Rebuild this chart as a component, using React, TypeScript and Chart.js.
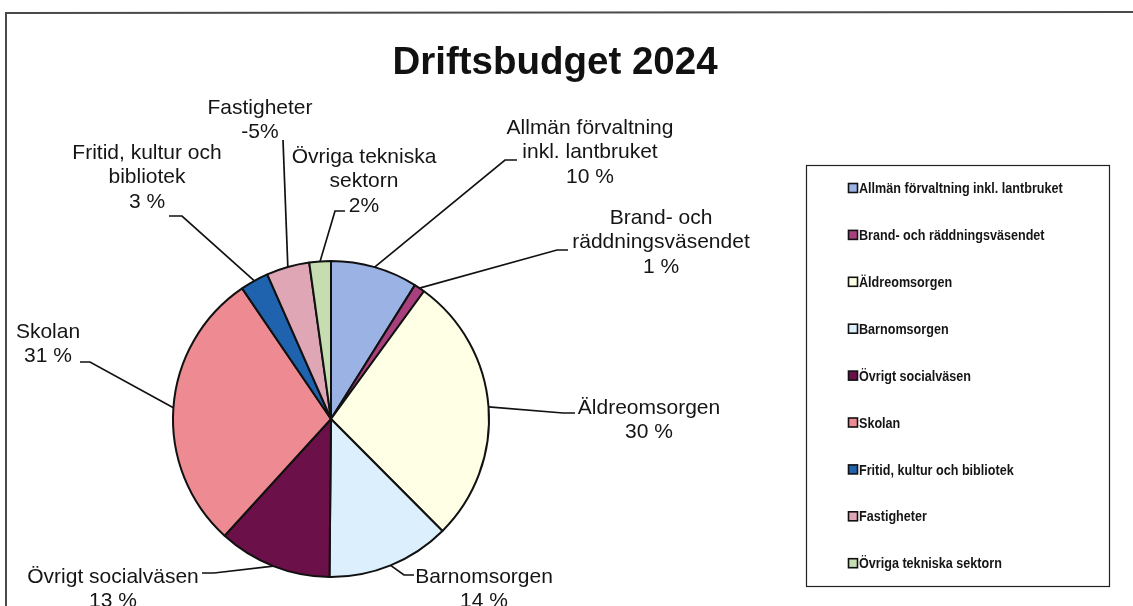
import React, { useEffect, useRef } from "react";
import { Chart, registerables } from "chart.js";

Chart.register(...registerables);

const categories = [
  "Allmän förvaltning inkl. lantbruket",
  "Brand- och räddningsväsendet",
  "Äldreomsorgen",
  "Barnomsorgen",
  "Övrigt socialväsen",
  "Skolan",
  "Fritid, kultur och bibliotek",
  "Fastigheter",
  "Övriga tekniska sektorn",
];

// slice sizes (share of the circle, %)
const sliceValues = [8.9, 1.1, 27.5, 12.6, 11.6, 28.7, 2.9, 4.4, 2.2];

// percentage texts printed in the data labels
const percentLabels = ["10 %", "1 %", "30 %", "14 %", "13 %", "31 %", "3 %", "-5%", "2%"];

// data-label name lines
const labelNameLines = [
  ["Allmän förvaltning", "inkl. lantbruket"],
  ["Brand- och", "räddningsväsendet"],
  ["Äldreomsorgen"],
  ["Barnomsorgen"],
  ["Övrigt socialväsen"],
  ["Skolan"],
  ["Fritid, kultur och", "bibliotek"],
  ["Fastigheter"],
  ["Övriga tekniska", "sektorn"],
];

const sliceColors = [
  "#9BB2E5",
  "#A9407E",
  "#FFFFE6",
  "#DCEFFC",
  "#6B1048",
  "#EE8A92",
  "#1F63AE",
  "#DFA7B5",
  "#C5DDB0",
];

const titleText = "Driftsbudget 2024";

// layout of the data labels (text centre x, first line y, leader start, knee x)
const labelLayout = [
  { cx: 590, y0: 128, sx: 517, sy: 160, kx: 505 },
  { cx: 661, y0: 218, sx: 568, sy: 250, kx: 557 },
  { cx: 649, y0: 408, sx: 575, sy: 413, kx: 563 },
  { cx: 484, y0: 577, sx: 414, sy: 575, kx: 404 },
  { cx: 113, y0: 577, sx: 202, sy: 573, kx: 214 },
  { cx: 48, y0: 332, sx: 80, sy: 362, kx: 90 },
  { cx: 147, y0: 153, sx: 169, sy: 216, kx: 182 },
  { cx: 260, y0: 108, sx: 283, sy: 140, kx: 283 },
  { cx: 364, y0: 157, sx: 345, sy: 211, kx: 335 },
];

const LINE_H = 24.5;
const FONT = '"Liberation Sans", Arial, sans-serif';

const decorPlugin = {
  id: "decor",
  beforeDraw(chart: any) {
    const ctx = chart.ctx;
    ctx.save();
    ctx.fillStyle = "#ffffff";
    ctx.fillRect(0, 0, chart.width, chart.height);
    // outer frame
    ctx.strokeStyle = "#4a4a4a";
    ctx.lineWidth = 2;
    ctx.beginPath();
    ctx.moveTo(6, 700);
    ctx.lineTo(6, 13);
    ctx.lineTo(1200, 12);
    ctx.stroke();
    // title
    ctx.fillStyle = "#111111";
    ctx.font = `bold 38.5px ${FONT}`;
    ctx.textAlign = "center";
    ctx.textBaseline = "middle";
    ctx.fillText(titleText, 555, 63);
    ctx.restore();
  },
  afterDatasetsDraw(chart: any) {
    const ctx = chart.ctx;
    const meta = chart.getDatasetMeta(0);
    ctx.save();
    // leader lines + labels
    meta.data.forEach((arc: any, i: number) => {
      const p = arc.getProps(["x", "y", "startAngle", "endAngle", "outerRadius"], true);
      const mid = (p.startAngle + p.endAngle) / 2;
      const ex = p.x + Math.cos(mid) * p.outerRadius;
      const ey = p.y + Math.sin(mid) * p.outerRadius;
      const L = labelLayout[i];
      ctx.strokeStyle = "#111111";
      ctx.lineWidth = 1.7;
      ctx.beginPath();
      ctx.moveTo(L.sx, L.sy);
      ctx.lineTo(L.kx, L.sy);
      ctx.lineTo(ex, ey);
      ctx.stroke();
      const lines = [...labelNameLines[i], percentLabels[i]];
      ctx.fillStyle = "#151515";
      ctx.font = `21px ${FONT}`;
      ctx.textAlign = "center";
      ctx.textBaseline = "middle";
      lines.forEach((t, k) => ctx.fillText(t, L.cx, L.y0 + k * LINE_H));
    });

    // legend
    ctx.strokeStyle = "#222222";
    ctx.lineWidth = 1.2;
    ctx.strokeRect(806.5, 165.5, 303, 421);
    const top = 188;
    const step = 46.9;
    categories.forEach((name, i) => {
      const y = top + i * step;
      ctx.fillStyle = sliceColors[i];
      ctx.fillRect(848.5, y - 4.5, 9, 9);
      ctx.strokeStyle = "#111111";
      ctx.lineWidth = 1.6;
      ctx.strokeRect(848.5, y - 4.5, 9, 9);
      ctx.save();
      ctx.translate(859, y);
      ctx.scale(0.84, 1);
      ctx.fillStyle = "#151515";
      ctx.font = `bold 15px ${FONT}`;
      ctx.textAlign = "left";
      ctx.textBaseline = "middle";
      ctx.fillText(name, 0, 1);
      ctx.restore();
    });
    ctx.restore();
  },
};

export default function App() {
  const ref = useRef<HTMLCanvasElement | null>(null);
  useEffect(() => {
    if (!ref.current) return;
    const chart = new Chart(ref.current, {
      type: "pie",
      data: {
        labels: categories,
        datasets: [
          {
            data: sliceValues,
            backgroundColor: sliceColors,
            borderColor: "#111111",
            borderWidth: 2,
            radius: 158,
          } as any,
        ],
      },
      options: {
        responsive: false,
        animation: false,
        devicePixelRatio: 1,
        layout: { padding: { left: 173, top: 261, right: 644, bottom: 29 } },
        plugins: {
          legend: { display: false },
          title: { display: false },
          tooltip: { enabled: false },
        },
      },
      plugins: [decorPlugin],
    });
    return () => chart.destroy();
  }, []);
  return (
    <div style={{ position: "fixed", left: 0, top: 0, width: 1133, height: 606, background: "#fff" }}>
      <canvas ref={ref} width={1133} height={606} style={{ display: "block" }} />
    </div>
  );
}
